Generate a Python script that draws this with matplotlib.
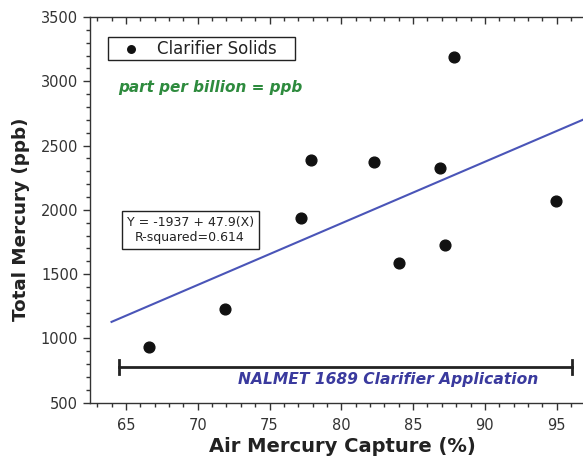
import matplotlib
matplotlib.use("Agg")
import matplotlib.pyplot as plt
import numpy as np
from matplotlib.ticker import MultipleLocator

# Data
capture = [66.6, 71.9, 77.2, 77.9, 82.3, 84.05, 86.9, 87.25, 87.85, 94.95]
mercury = [930, 1229, 1937, 2388, 2372, 1587, 2326, 1727, 3192, 2069]
intercept = -1937
slope = 47.9
fit_x = [64.0, 97.0]
range_x = [64.55, 96.03]
range_y = 778
series_label = "Clarifier Solids"
eq_text = "Y = -1937 + 47.9(X)\nR-squared=0.614"

plt.rcParams['font.family'] = ['DejaVu Sans']

fig = plt.figure(figsize=(5.83, 4.61), dpi=100)
ax = fig.add_axes([90/583, 1 - 402.7/461, (583-90)/583, (402.7-17)/461])

ax.set_xlim(62.5, 96.83)
ax.set_ylim(500, 3500)

fx = np.array(fit_x)
ax.plot(fx, intercept + slope*fx, color='#4a55b8', lw=1.5, zorder=2)

ax.scatter(capture, mercury, s=60, color='#111111', zorder=3, label=series_label + "   ")

# range bar
ax.plot(range_x, [range_y, range_y], color='#222222', lw=2, zorder=2)
for xx in range_x:
    ax.plot([xx, xx], [range_y-55, range_y+55], color='#222222', lw=2, zorder=2)

ax.text(0.6045, 0.059, "NALMET 1689 Clarifier Application", transform=ax.transAxes,
        ha='center', va='center', fontsize=11.2, fontweight='bold', fontstyle='italic',
        color='#3a3a9e')
ax.text(0.0568, 0.8185, "part per billion = ppb", transform=ax.transAxes,
        ha='left', va='center', fontsize=11, fontweight='bold', fontstyle='italic',
        color='#2e8b3e')
ax.text(0.203, 0.4478, eq_text, transform=ax.transAxes, ha='center', va='center',
        fontsize=9, color='#222222', linespacing=1.15,
        bbox=dict(boxstyle='square,pad=0.4', facecolor='white', edgecolor='#222222', lw=1))

leg = ax.legend(loc='upper left', bbox_to_anchor=(0.0365, 0.948), borderaxespad=0,
                fancybox=False, framealpha=1, edgecolor='#222222', fontsize=12,
                handletextpad=0.33, borderpad=0.15, handlelength=2.46, markerscale=0.7)
leg.get_frame().set_linewidth(1)
for t in leg.get_texts():
    t.set_color('#222222')

ax.spines['right'].set_visible(False)
for s in ['left', 'bottom', 'top']:
    ax.spines[s].set_color('#333333')
    ax.spines[s].set_linewidth(1)

ax.xaxis.set_major_locator(MultipleLocator(5))
ax.xaxis.set_minor_locator(MultipleLocator(1))
ax.yaxis.set_major_locator(MultipleLocator(500))
ax.yaxis.set_minor_locator(MultipleLocator(100))
ax.tick_params(which='major', length=5, width=1, color='#333333', labelsize=10.5,
               labelcolor='#333333', direction='out')
ax.tick_params(which='minor', length=3, width=1, color='#333333', direction='out')
ax.tick_params(axis='x', pad=6)

sec = ax.secondary_xaxis('top')
sec.xaxis.set_major_locator(MultipleLocator(5))
sec.xaxis.set_minor_locator(MultipleLocator(1))
sec.tick_params(which='major', direction='in', length=5, width=1, color='#333333', labeltop=False)
sec.tick_params(which='minor', direction='in', length=3, width=1, color='#333333')
sec.spines['top'].set_visible(False)

ax.set_xlabel("Air Mercury Capture (%)", fontsize=14, fontweight='bold', color='#222222')
ax.set_ylabel("Total Mercury (ppb)", fontsize=13.2, fontweight='bold', color='#222222')
ax.xaxis.set_label_coords((342-90)/493, -(437-402.7)/385.7)
ax.yaxis.set_label_coords(-(90-30)/493, (402.7-219)/385.7)

fig.savefig("out.png", dpi=100)
